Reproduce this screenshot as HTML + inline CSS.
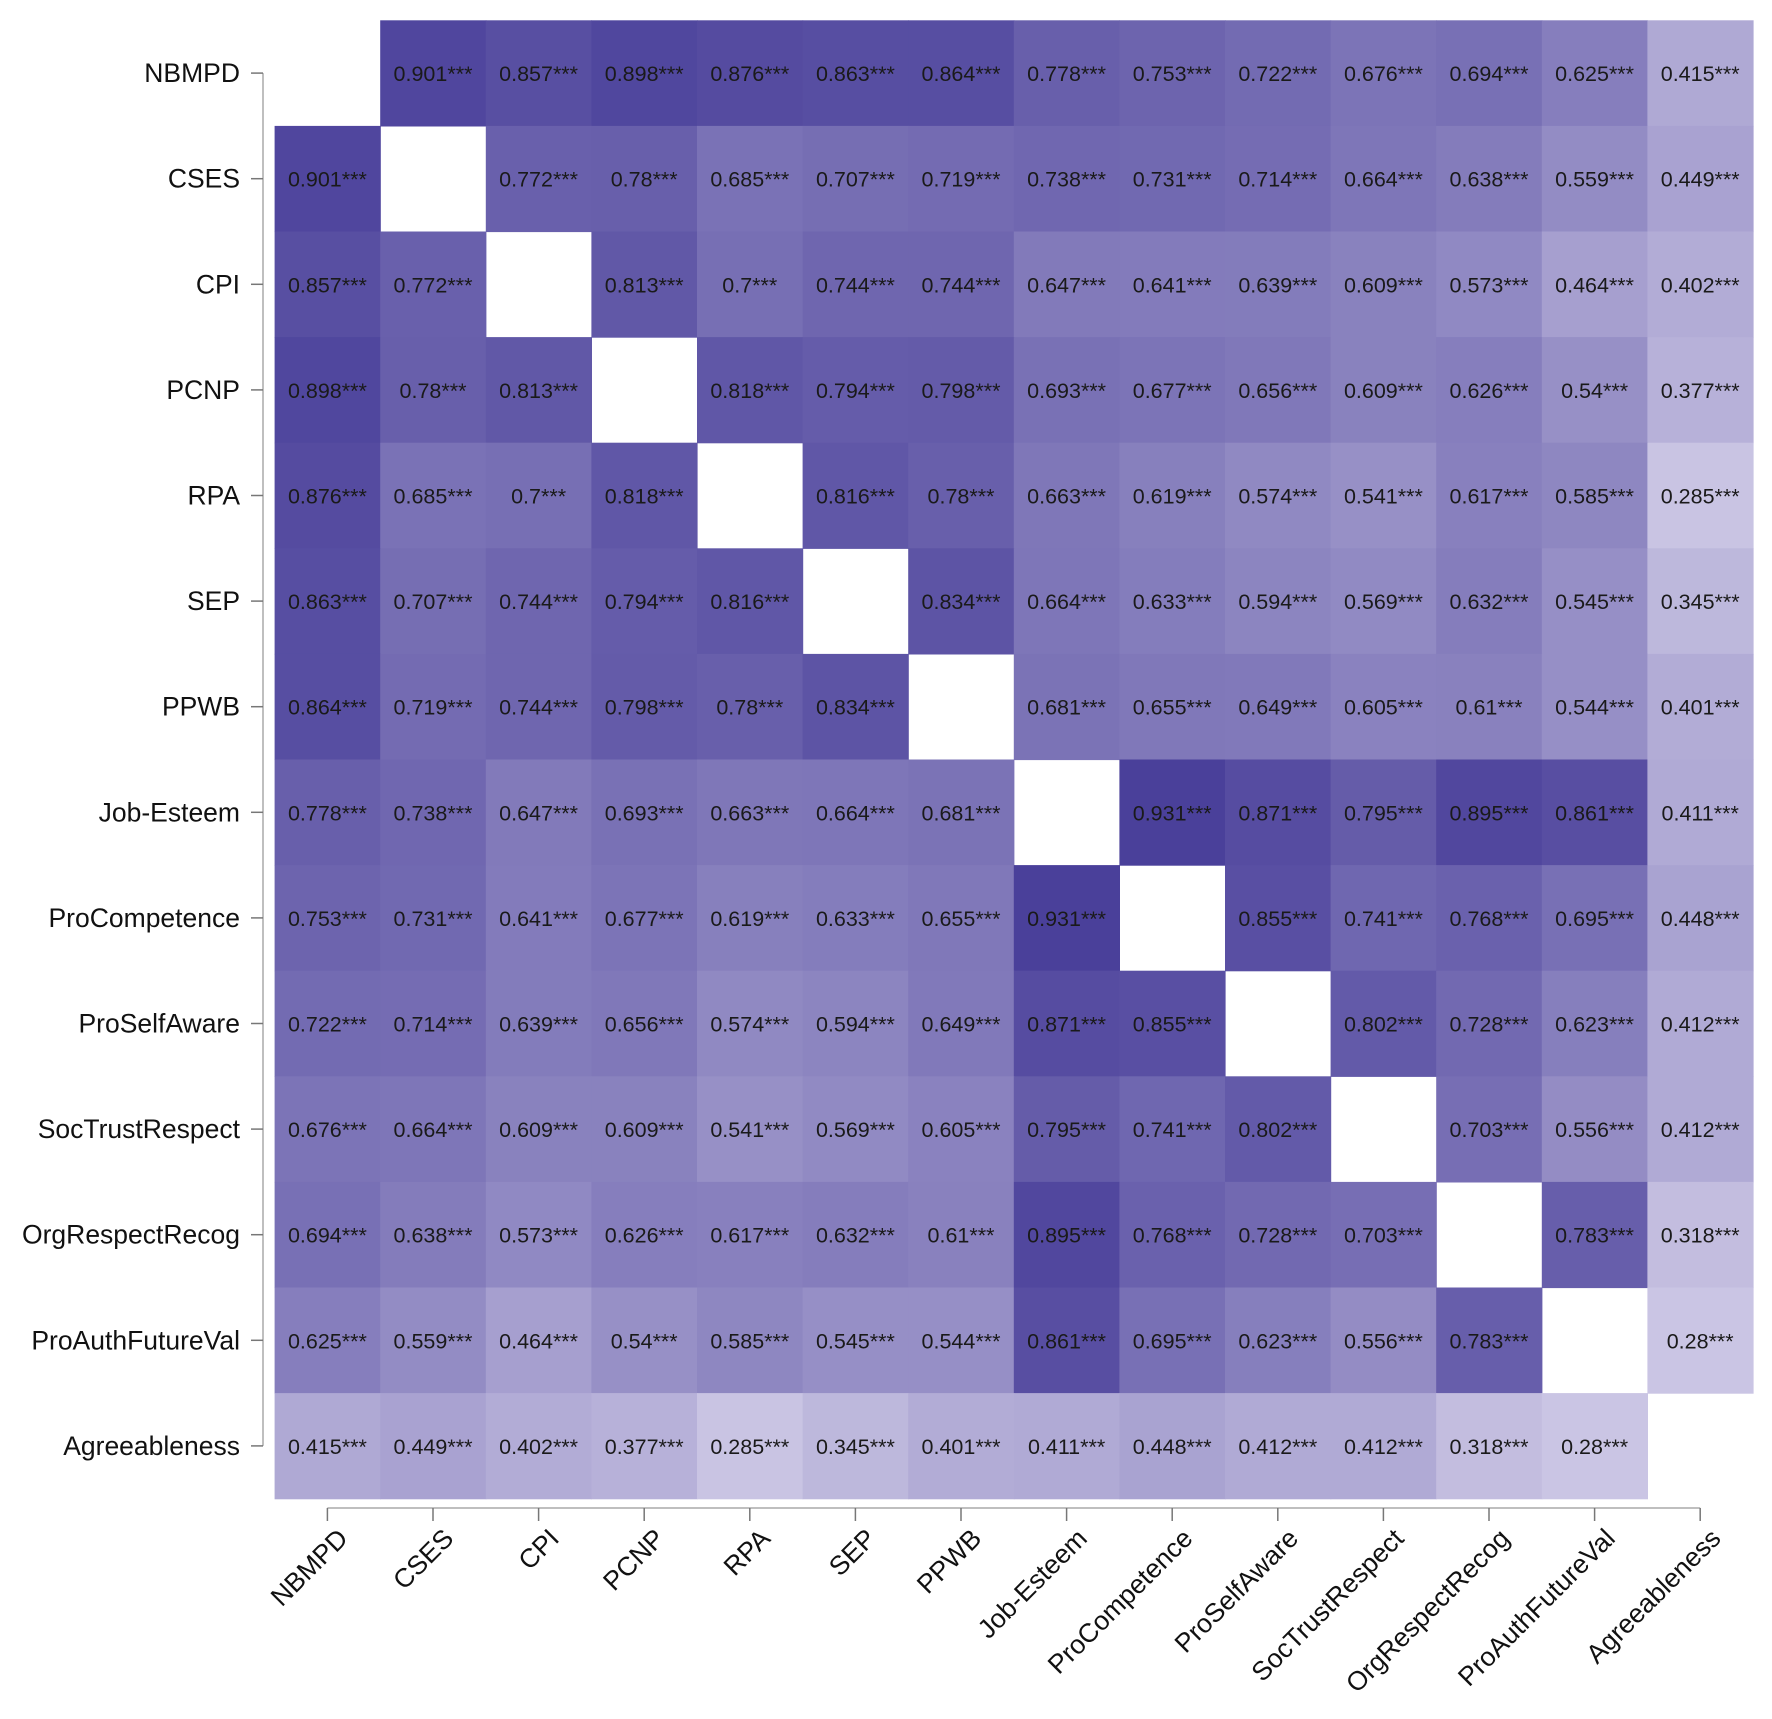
<!DOCTYPE html>
<html><head><meta charset="utf-8"><style>
html,body{margin:0;padding:0;background:#fff;}
svg{display:block;font-family:"Liberation Sans",Arial,sans-serif;}
</style></head><body>
<svg id="chart" width="1772" height="1719" viewBox="0 0 1772 1719" xmlns="http://www.w3.org/2000/svg"></svg>
<script>
const categories = ["NBMPD","CSES","CPI","PCNP","RPA","SEP","PPWB","Job-Esteem","ProCompetence","ProSelfAware","SocTrustRespect","OrgRespectRecog","ProAuthFutureVal","Agreeableness"];
// upper triangle rows: values of row i with columns j>i
const row0 = [0.901,0.857,0.898,0.876,0.863,0.864,0.778,0.753,0.722,0.676,0.694,0.625,0.415];
const row1 = [0.772,0.78,0.685,0.707,0.719,0.738,0.731,0.714,0.664,0.638,0.559,0.449];
const row2 = [0.813,0.7,0.744,0.744,0.647,0.641,0.639,0.609,0.573,0.464,0.402];
const row3 = [0.818,0.794,0.798,0.693,0.677,0.656,0.609,0.626,0.54,0.377];
const row4 = [0.816,0.78,0.663,0.619,0.574,0.541,0.617,0.585,0.285];
const row5 = [0.834,0.664,0.633,0.594,0.569,0.632,0.545,0.345];
const row6 = [0.681,0.655,0.649,0.605,0.61,0.544,0.401];
const row7 = [0.931,0.871,0.795,0.895,0.861,0.411];
const row8 = [0.855,0.741,0.768,0.695,0.448];
const row9 = [0.802,0.728,0.623,0.412];
const row10 = [0.703,0.556,0.412];
const row11 = [0.783,0.318];
const row12 = [0.28];
const upperRows = [row0,row1,row2,row3,row4,row5,row6,row7,row8,row9,row10,row11,row12];
const significance = "***";

const NS="http://www.w3.org/2000/svg";
const svgEl=document.getElementById('chart');
const gridLeft=274.6, gridTop=20.3, cellSize=105.6, nCats=categories.length;
function xPos(j){return gridLeft+j*cellSize;}
function yPos(i){return gridTop+i*cellSize;}
function color(v){
  const lo=[208,203,231], hi=[70,60,152];
  let t=(v-0.25)/(0.95-0.25); t=Math.max(0,Math.min(1,t));
  const c=lo.map((a,k)=>Math.round(a+(hi[k]-a)*t));
  return `rgb(${c[0]},${c[1]},${c[2]})`;
}
function mk(tag,attrs){const e=document.createElementNS(NS,tag);for(const k in attrs)e.setAttribute(k,attrs[k]);return e;}
function val(i,j){ if(i===j) return null; const a=Math.min(i,j), b=Math.max(i,j); return upperRows[a][b-a-1]; }

const g=mk('g',{});


svgEl.appendChild(g);
for(let i=0;i<nCats;i++){for(let j=0;j<nCats;j++){
  const v=val(i,j); if(v===null) continue;
  const r=mk('rect',{x:xPos(j),y:yPos(i),width:cellSize+0.6,height:cellSize+0.6,fill:color(v)});
  
  
  g.appendChild(r);
  const t=mk('text',{x:xPos(j)+cellSize/2,y:yPos(i)+cellSize/2+8,'text-anchor':'middle','font-size':21.5,fill:'#1a1a1a'});
  t.textContent=String(v)+significance;
  
  
  g.appendChild(t);
}}
// y axis
const yl=mk('line',{x1:263,x2:263,y1:yPos(0)+cellSize/2,y2:yPos(nCats-1)+cellSize/2,stroke:'#aaa','stroke-width':1.5});


svgEl.appendChild(yl);
for(let i=0;i<nCats;i++){
  const cy=yPos(i)+cellSize/2;
  const tk=mk('line',{x1:251,x2:263,y1:cy,y2:cy,stroke:'#777','stroke-width':1.5});
  
  
  svgEl.appendChild(tk);
  const t=mk('text',{x:240,y:cy+9,'text-anchor':'end','font-size':26.5,fill:'#111'});
  t.textContent=categories[i];
  
  
  svgEl.appendChild(t);
}
// x axis
const xl=mk('line',{x1:xPos(0)+cellSize/2,x2:xPos(nCats-1)+cellSize/2,y1:1508,y2:1508,stroke:'#aaa','stroke-width':1.5});


svgEl.appendChild(xl);
for(let j=0;j<nCats;j++){
  const cx=xPos(j)+cellSize/2;
  const tk=mk('line',{x1:cx,x2:cx,y1:1508,y2:1521,stroke:'#777','stroke-width':1.5});
  
  
  svgEl.appendChild(tk);
  const ax=cx+22, ay=1540;
  const t=mk('text',{x:ax,y:ay,'text-anchor':'end','font-size':26.5,fill:'#111',transform:`rotate(-45 ${ax} ${ay})`});
  t.textContent=categories[j];
  
  
  svgEl.appendChild(t);
}
</script>
</body></html>
